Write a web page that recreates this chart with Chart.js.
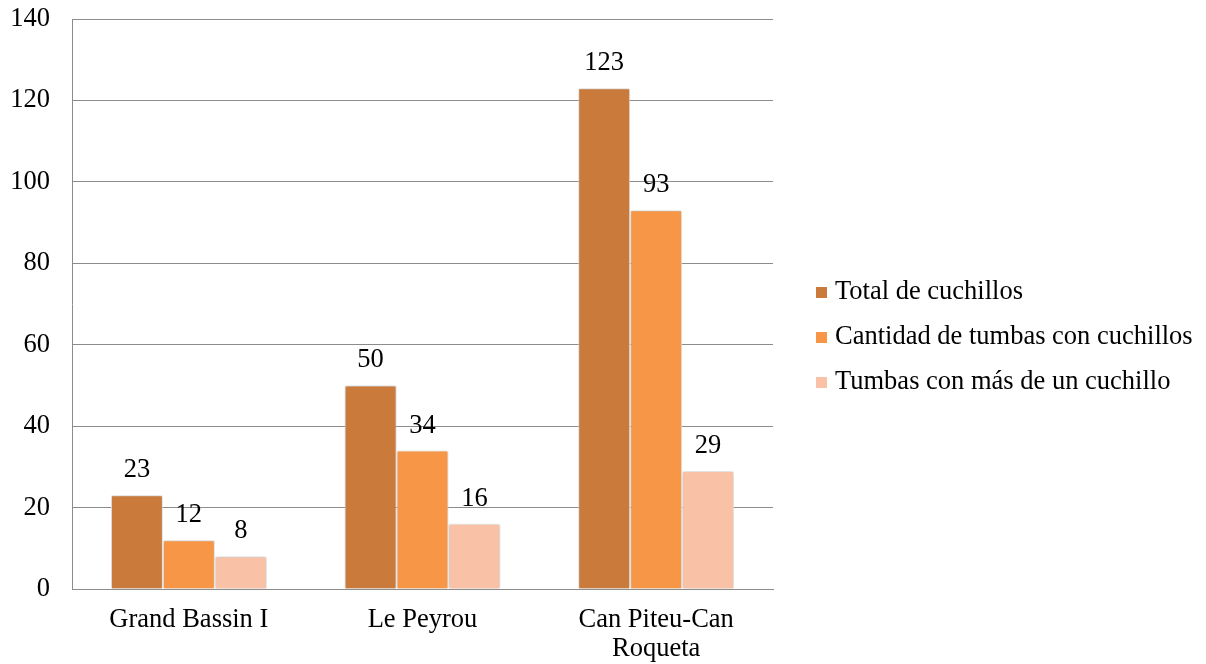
<!DOCTYPE html>
<html>
<head>
<meta charset="utf-8">
<script src="https://cdn.jsdelivr.net/npm/chart.js@4/dist/chart.umd.min.js"></script>
<style>
  html, body { margin: 0; padding: 0; background: #fff; }
  #wrap { width: 1206px; height: 664px; }
</style>
</head>
<body>
<div id="wrap"><canvas id="chart" width="1206" height="664"></canvas></div>
<script>
// data
const sites = ['Grand Bassin I', 'Le Peyrou', ['Can Piteu-Can', 'Roqueta']];
const seriesNames = ['Total de cuchillos', 'Cantidad de tumbas con cuchillos', 'Tumbas con más de un cuchillo'];
const totalKnives = [23, 50, 123];
const gravesWithKnives = [12, 34, 93];
const gravesMultiKnife = [8, 16, 29];
const yTicks = [0, 20, 40, 60, 80, 100, 120, 140];

const colors = ['#CA7A3A', '#F79646', '#F9C1A5'];
const FONT = '"Liberation Serif", "Times New Roman", serif';
const FSIZE = 26.5;

// soft shadow behind the bars, like the office chart
const barShadow = {
  id: 'barShadow',
  beforeDatasetsDraw(chart) {
    const ctx = chart.ctx;
    ctx.save();
    ctx.shadowColor = 'rgba(0,0,0,0.28)';
    ctx.shadowBlur = 4;
    ctx.shadowOffsetX = 0;
    ctx.shadowOffsetY = 0;
  },
  afterDatasetsDraw(chart) {
    chart.ctx.restore();
  }
};

// value labels above each bar
const barLabels = {
  id: 'barLabels',
  afterDatasetsDraw(chart) {
    const ctx = chart.ctx;
    ctx.save();
    ctx.font = FSIZE + 'px ' + FONT;
    ctx.fillStyle = '#000';
    ctx.textAlign = 'center';
    ctx.textBaseline = 'middle';
    chart.data.datasets.forEach((ds, i) => {
      chart.getDatasetMeta(i).data.forEach((bar, j) => {
        ctx.fillText(ds.data[j], bar.x, bar.y - 25);
      });
    });
    ctx.restore();
  }
};

// legend on the right, drawn by hand so it sits where the original has it
const sideLegend = {
  id: 'sideLegend',
  afterDraw(chart) {
    const ctx = chart.ctx;
    ctx.save();
    ctx.font = FSIZE + 'px ' + FONT;
    ctx.textBaseline = 'middle';
    chart.data.datasets.forEach((ds, i) => {
      const y = 292 + i * 45;
      ctx.fillStyle = ds.backgroundColor;
      ctx.fillRect(816, y - 5, 11, 11);
      ctx.fillStyle = '#000';
      ctx.fillText(ds.label, 835, y);
    });
    ctx.restore();
  }
};

const datasets = [totalKnives, gravesWithKnives, gravesMultiKnife].map((vals, i) => ({
  label: seriesNames[i],
  data: vals,
  backgroundColor: colors[i],
  borderColor: '#ffffff',
  borderWidth: 1,
  categoryPercentage: 0.667,
  barPercentage: 1.0
}));

new Chart(document.getElementById('chart'), {
  type: 'bar',
  data: { labels: sites, datasets: datasets },
  options: {
    responsive: false,
    animation: false,
    layout: { padding: { left: 0, right: 433, top: 19, bottom: 0 } },
    plugins: {
      legend: { display: false },
      tooltip: { enabled: false }
    },
    scales: {
      x: {
        grid: { display: false },
        border: { color: '#8c8c8c', width: 1 },
        ticks: {
          color: '#000',
          padding: 8,
          font: { family: FONT, size: FSIZE, lineHeight: 1.12 },
          maxRotation: 0
        },
        afterFit: s => { s.height = 75; s.paddingLeft = 0; s.paddingRight = 0; }
      },
      y: {
        min: 0,
        max: 140,
        afterBuildTicks: s => { s.ticks = yTicks.map(v => ({ value: v })); },
        grid: { color: '#8c8c8c', lineWidth: 1, drawTicks: false },
        border: { color: '#8c8c8c', width: 1 },
        ticks: {
          color: '#000',
          padding: 22,
          font: { family: FONT, size: FSIZE }
        },
        afterFit: s => { s.width = 72; s.paddingTop = 0; s.paddingBottom = 0; }
      }
    }
  },
  plugins: [barShadow, barLabels, sideLegend]
});
</script>
</body>
</html>
